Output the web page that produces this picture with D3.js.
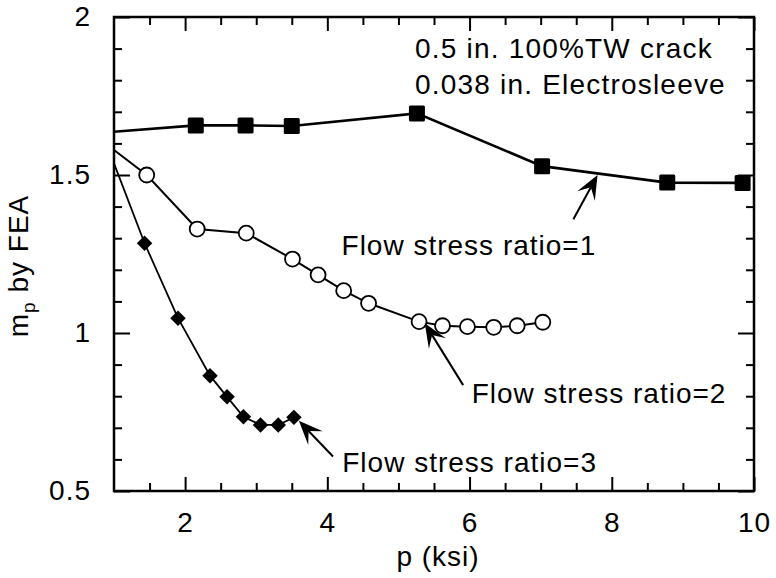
<!DOCTYPE html>
<html>
<head>
<meta charset="utf-8">
<script src="https://cdn.jsdelivr.net/npm/d3@7"></script>
<style>
  html, body { margin: 0; padding: 0; background: #fff; }
  svg { display: block; }
  text { font-family: "Liberation Sans", Arial, Helvetica, sans-serif; fill: #000; }
</style>
</head>
<body>
<svg id="chart" width="776" height="578"></svg>
<script>
// ---------------- data ----------------
// Flow stress ratio = 1 (filled squares)
const ratio1X = [1.0, 2.15, 2.85, 3.50, 5.26, 7.02, 8.78, 9.84];
const ratio1Y = [1.637, 1.657, 1.657, 1.655, 1.695, 1.528, 1.476, 1.475];
const ratio1Marked = [false, true, true, true, true, true, true, true];

// Flow stress ratio = 2 (open circles)
const ratio2X = [1.0, 1.46, 2.17, 2.86, 3.51, 3.87, 4.23, 4.58, 5.29, 5.62, 5.97, 6.34, 6.67, 7.03];
const ratio2Y = [1.579, 1.500, 1.329, 1.316, 1.234, 1.184, 1.134, 1.094, 1.036, 1.023, 1.020, 1.018, 1.023, 1.034];
const ratio2Marked = [false, true, true, true, true, true, true, true, true, true, true, true, true, true];

// Flow stress ratio = 3 (filled diamonds)
const ratio3X = [1.0, 1.43, 1.90, 2.35, 2.59, 2.82, 3.06, 3.31, 3.53];
const ratio3Y = [1.537, 1.284, 1.047, 0.865, 0.798, 0.735, 0.709, 0.709, 0.733];
const ratio3Marked = [false, true, true, true, true, true, true, true, true];

// axis ticks
const xMajorTicks = [2, 4, 6, 8, 10];
const xMinorTicks = [1.5, 2.5, 3, 3.5, 4.5, 5, 5.5, 6.5, 7, 7.5, 8.5, 9, 9.5];
const yMajorTicks = [0.5, 1, 1.5, 2];
const yMinorTicks = [0.6, 0.7, 0.8, 0.9, 1.1, 1.2, 1.3, 1.4, 1.6, 1.7, 1.8, 1.9];

// annotations (data coordinates)
const noteLines = ["0.5 in. 100%TW crack", "0.038 in. Electrosleeve"];
const noteX = 5.233;
const noteY = [1.870, 1.756];
const seriesLabels = ["Flow stress ratio=1", "Flow stress ratio=2", "Flow stress ratio=3"];
const labelAnchorX = [4.20, 6.03, 4.21];
const labelAnchorY = [1.247, 0.778, 0.560];
const arrowTailX = [7.46, 5.91, 4.08];
const arrowTailY = [1.360, 0.835, 0.609];
const arrowTipX = [7.80, 5.37, 3.60];
const arrowTipY = [1.500, 1.031, 0.722];

// ---------------- chart ----------------
const W = 776, H = 578;
const margin = { left: 114, right: 22, top: 17, bottom: 87 };
const svg = d3.select("#chart");

const x = d3.scaleLinear().domain([1, 10]).range([margin.left, W - margin.right]);
const y = d3.scaleLinear().domain([0.5, 2]).range([H - margin.bottom, margin.top]);

const FS = 28, LS = "1px";
const x0 = x.range()[0], x1 = x.range()[1], y0 = y.range()[0], y1 = y.range()[1];

function styleAxis(g) {
  g.select(".domain").remove();
  g.selectAll(".tick line").attr("stroke", "#000").attr("stroke-width", 2);
  g.selectAll("text").attr("font-size", FS).attr("letter-spacing", LS)
    .attr("font-family", '"Liberation Sans", Arial, sans-serif').attr("fill", "#000");
}

// bottom axis
svg.append("g").attr("transform", `translate(0,${y0})`)
  .call(d3.axisBottom(x).tickValues(xMajorTicks).tickSize(-14).tickPadding(21).tickFormat(d3.format("d")))
  .call(styleAxis);
svg.append("g").attr("transform", `translate(0,${y0})`)
  .call(d3.axisBottom(x).tickValues(xMinorTicks).tickSize(-8).tickFormat(""))
  .call(styleAxis);
// top axis
svg.append("g").attr("transform", `translate(0,${y1})`)
  .call(d3.axisTop(x).tickValues(xMajorTicks).tickSize(-14).tickFormat(""))
  .call(styleAxis);
svg.append("g").attr("transform", `translate(0,${y1})`)
  .call(d3.axisTop(x).tickValues(xMinorTicks).tickSize(-8).tickFormat(""))
  .call(styleAxis);
// left axis
svg.append("g").attr("transform", `translate(${x0},0)`)
  .call(d3.axisLeft(y).tickValues(yMajorTicks).tickSize(-16).tickPadding(23).tickFormat(d => d3.format("")(d)))
  .call(styleAxis);
svg.append("g").attr("transform", `translate(${x0},0)`)
  .call(d3.axisLeft(y).tickValues(yMinorTicks).tickSize(-8).tickFormat(""))
  .call(styleAxis);
// right axis
svg.append("g").attr("transform", `translate(${x1},0)`)
  .call(d3.axisRight(y).tickValues(yMajorTicks).tickSize(-16).tickFormat(""))
  .call(styleAxis);
svg.append("g").attr("transform", `translate(${x1},0)`)
  .call(d3.axisRight(y).tickValues(yMinorTicks).tickSize(-8).tickFormat(""))
  .call(styleAxis);

// frame
svg.append("rect").attr("x", x0).attr("y", y1).attr("width", x1 - x0).attr("height", y0 - y1)
  .attr("fill", "none").attr("stroke", "#000").attr("stroke-width", 2.5);

// axis titles
svg.append("text").attr("x", (x0 + x1) / 2 + 4).attr("y", 566)
  .attr("text-anchor", "middle").attr("font-size", FS).attr("letter-spacing", LS).text("p (ksi)");

const yl = svg.append("text").attr("transform", `translate(28,${(y0 + y1) / 2 + 12}) rotate(-90)`)
  .attr("text-anchor", "middle").attr("font-size", FS).attr("letter-spacing", LS);
yl.append("tspan").text("m");
yl.append("tspan").attr("font-size", 19).attr("dy", 7).text("p");
yl.append("tspan").attr("dy", -7).text(" by FEA");

// series
const line = d3.line().x(d => x(d.x)).y(d => y(d.y));
function toPoints(xs, ys, marked) { return xs.map((v, i) => ({ x: v, y: ys[i], m: marked[i] })); }
const s1 = toPoints(ratio1X, ratio1Y, ratio1Marked);
const s2 = toPoints(ratio2X, ratio2Y, ratio2Marked);
const s3 = toPoints(ratio3X, ratio3Y, ratio3Marked);

svg.append("path").datum(s1).attr("d", line).attr("fill", "none").attr("stroke", "#000").attr("stroke-width", 2.6);
svg.append("path").datum(s2).attr("d", line).attr("fill", "none").attr("stroke", "#000").attr("stroke-width", 2);
svg.append("path").datum(s3).attr("d", line).attr("fill", "none").attr("stroke", "#000").attr("stroke-width", 1.8);

// markers
svg.append("g").selectAll("rect").data(s1.filter(d => d.m)).join("rect")
  .attr("x", d => x(d.x) - 8).attr("y", d => y(d.y) - 8)
  .attr("width", 16).attr("height", 16).attr("rx", 1.5).attr("fill", "#000");

svg.append("g").selectAll("circle").data(s2.filter(d => d.m)).join("circle")
  .attr("cx", d => x(d.x)).attr("cy", d => y(d.y)).attr("r", 7.5)
  .attr("fill", "#fff").attr("stroke", "#000").attr("stroke-width", 1.8);

const diamond = d3.symbol().type(d3.symbolSquare).size(120);
svg.append("g").selectAll("path").data(s3.filter(d => d.m)).join("path")
  .attr("d", diamond)
  .attr("transform", d => `translate(${x(d.x)},${y(d.y)}) rotate(45)`)
  .attr("fill", "#000");

// annotation text
svg.append("g").selectAll("text").data(noteLines).join("text")
  .attr("x", x(noteX)).attr("y", (d, i) => y(noteY[i]))
  .attr("font-size", FS).attr("letter-spacing", "1.2px").text(d => d);

svg.append("g").selectAll("text").data(seriesLabels).join("text")
  .attr("x", (d, i) => x(labelAnchorX[i])).attr("y", (d, i) => y(labelAnchorY[i]))
  .attr("font-size", FS).attr("letter-spacing", LS).text(d => d);

// arrows
const arrows = seriesLabels.map((d, i) => ({
  tx: x(arrowTailX[i]), ty: y(arrowTailY[i]), hx: x(arrowTipX[i]), hy: y(arrowTipY[i])
}));
const ag = svg.append("g");
arrows.forEach(a => {
  const dx = a.hx - a.tx, dy = a.hy - a.ty, len = Math.hypot(dx, dy);
  const ux = dx / len, uy = dy / len, nx = -uy, ny = ux;
  const L = 24, Wd = 10, notch = 14;
  const bx = a.hx - L * ux, by = a.hy - L * uy;
  const p = d3.path();
  p.moveTo(a.hx, a.hy);
  p.lineTo(bx + Wd * nx, by + Wd * ny);
  p.lineTo(a.hx - notch * ux, a.hy - notch * uy);
  p.lineTo(bx - Wd * nx, by - Wd * ny);
  p.closePath();
  ag.append("line").attr("x1", a.tx).attr("y1", a.ty)
    .attr("x2", a.hx - notch * ux).attr("y2", a.hy - notch * uy)
    .attr("stroke", "#000").attr("stroke-width", 2);
  ag.append("path").attr("d", p.toString()).attr("fill", "#000");
});
</script>
</body>
</html>
